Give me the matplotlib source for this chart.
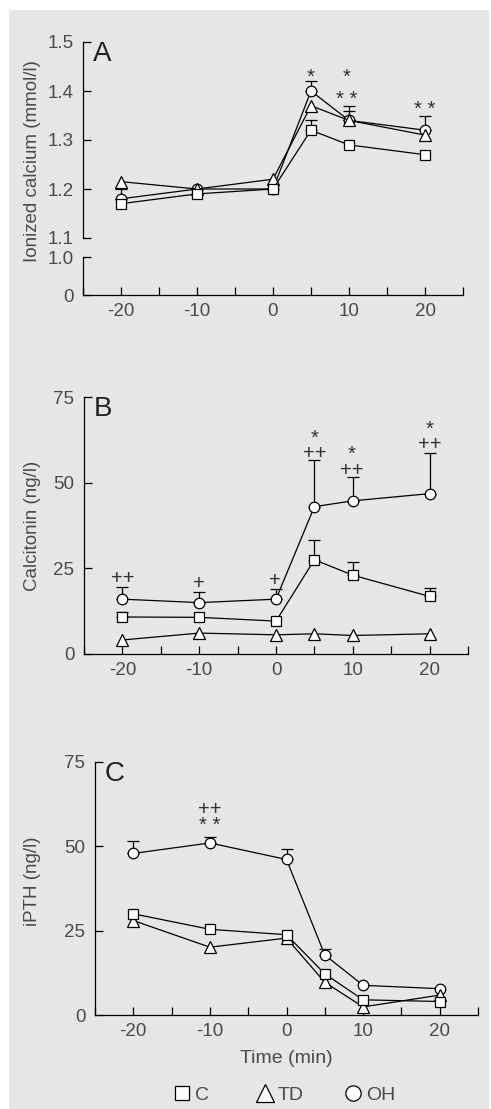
import numpy as np
import matplotlib
matplotlib.use("Agg")
import matplotlib.pyplot as plt
from matplotlib.lines import Line2D
from matplotlib.patches import Rectangle
from matplotlib.font_manager import FontProperties

# ---------------- data ----------------
time = [-20, -10, 0, 5, 10, 20]

# Panel A: ionized calcium (mmol/l)
ca_C = [1.17, 1.19, 1.20, 1.32, 1.29, 1.27]
ca_TD = [1.215, 1.20, 1.22, 1.37, 1.34, 1.31]
ca_OH = [1.18, 1.20, 1.20, 1.40, 1.34, 1.32]
ca_C_err = [0.0, 0.0, 0.0, 0.02, 0.0, 0.0]
ca_TD_err = [0.0, 0.0, 0.0, 0.0, 0.02, 0.0]
ca_OH_err = [0.02, 0.0, 0.0, 0.02, 0.03, 0.03]

# Panel B: calcitonin (ng/l)
ct_C = [10.8, 10.7, 9.6, 27.5, 23.0, 16.8]
ct_TD = [4.1, 6.1, 5.6, 5.9, 5.4, 5.9]
ct_OH = [16.0, 15.0, 16.0, 43.0, 44.7, 46.8]
ct_C_err = [1.5, 0.0, 0.0, 5.8, 3.8, 2.4]
ct_TD_err = [0.0, 0.0, 0.0, 0.0, 0.0, 0.0]
ct_OH_err = [3.6, 3.2, 3.0, 13.5, 7.0, 12.0]

# Panel C: iPTH (ng/l)
pth_C = [30.0, 25.4, 23.8, 12.2, 4.5, 4.0]
pth_TD = [28.0, 20.1, 22.8, 9.7, 2.4, 5.9]
pth_OH = [47.9, 51.0, 46.1, 17.8, 8.8, 7.8]
pth_C_err = [0.0, 0.0, 0.0, 0.0, 0.0, 0.0]
pth_TD_err = [0.0, 0.0, 0.0, 0.0, 0.0, 0.0]
pth_OH_err = [3.6, 1.7, 3.0, 1.8, 0.0, 0.0]

# significance marks: (text, x, y) -- y is the visual centre of the mark
marks_A = [("*", 4.9, 1.437), ("*", 9.7, 1.437), ("* *", 9.7, 1.386), ("* *", 20.0, 1.365)]
marks_B = [("++", -20, 22.5), ("+", -10, 21.0), ("+", -0.2, 21.8),
           ("++", 5, 59.0), ("*", 5, 64.4),
           ("++", 9.9, 54.0), ("*", 9.9, 59.7),
           ("++", 20, 61.5), ("*", 20, 66.9)]
marks_C = [("++", -10, 61.5), ("* *", -10, 56.5)]

series_names = ["C", "TD", "OH"]
x_major = [-20, -10, 0, 10, 20]
x_minor = [-25, -15, -5, 5, 15, 25]

# ---------------- style ----------------
W, H = 491, 1109
DPI = 100
TXT = "#4a4a4a"
BG = "#e5e6e8"
FONT = ["Liberation Sans", "DejaVu Sans"]
plt.rcParams["font.family"] = FONT
plt.rcParams["font.size"] = 13.5

fig = plt.figure(figsize=(W / DPI, H / DPI), dpi=DPI, facecolor="white")
fig.patches.append(Rectangle((9 / W, 0), (489 - 9) / W, 1 - 10 / H,
                             transform=fig.transFigure, facecolor=BG,
                             edgecolor="none", zorder=-10))

def px_axes(left, right, top, bottom):
    return fig.add_axes([left / W, 1 - bottom / H, (right - left) / W, (bottom - top) / H])

styles = {
    "C": dict(marker="s", ms=7.0),
    "TD": dict(marker="^", ms=8.4),
    "OH": dict(marker="o", ms=7.6),
}

def draw_series(ax, data, errs):
    # draw order: OH, TD, C (squares on top)
    for name in ["OH", "TD", "C"]:
        y = np.asarray(data[name], dtype=float)
        e = np.asarray(errs[name], dtype=float)
        has = e > 0
        if has.any():
            xs = np.asarray(time)[has]
            ax.errorbar(xs, y[has], yerr=[np.zeros(has.sum()), e[has]], fmt="none",
                        ecolor="black", elinewidth=0.9, capsize=4.5, capthick=0.9,
                        zorder=2, clip_on=False)
        ax.plot(time, y, color="black", lw=0.9, mfc="white", mec="black", mew=0.9,
                zorder=3, clip_on=False, **styles[name])

def style_axes(ax, letter):
    ax.set_facecolor("none")
    for s in ["top", "right"]:
        ax.spines[s].set_visible(False)
    for s in ["left", "bottom"]:
        ax.spines[s].set_linewidth(0.9)
    ax.set_xlim(-25, 25)
    ax.set_xticks(x_major)
    ax.set_xticks(x_minor, minor=True)
    ax.set_xticklabels([str(v) for v in x_major])
    ax.tick_params(axis="both", which="both", direction="in", length=6, width=0.9,
                   colors="black", labelcolor=TXT, labelsize=13.5)
    ax.tick_params(axis="x", which="major", pad=6)
    ax.tick_params(axis="y", which="major", pad=7)
    ax.text(0.025, 1.005, letter, transform=ax.transAxes, fontsize=20, color="#222222",
            ha="left", va="top")

# ---------------- Panel A ----------------
axA = px_axes(83, 463, 42, 295)
bp_data = [0.0, 1.0, 1.1, 1.5]
bp_disp = [0.0, 38.0, 57.0, 253.0]

def fwd(y):
    y = np.asarray(y, dtype=float)
    return np.interp(y, bp_data, bp_disp, left=-1e3, right=1e3)

def inv(u):
    u = np.asarray(u, dtype=float)
    return np.interp(u, bp_disp, bp_data, left=-1e3, right=1e3)

axA.set_yscale("function", functions=(fwd, inv))
axA.set_ylim(0, 1.5)
draw_series(axA, {"C": ca_C, "TD": ca_TD, "OH": ca_OH},
            {"C": ca_C_err, "TD": ca_TD_err, "OH": ca_OH_err})
style_axes(axA, "A")
axA.spines["left"].set_visible(False)
for seg in ([0.0, 1.0], [1.1, 1.5]):
    axA.plot([-25, -25], seg, color="black", lw=0.9, clip_on=False, zorder=4)
axA.set_yticks([0, 1.0, 1.1, 1.2, 1.3, 1.4, 1.5])
axA.set_yticklabels(["0", "1.0", "1.1", "1.2", "1.3", "1.4", "1.5"])
axA.set_yticks([1.0, 1.1], minor=True)
axA.tick_params(axis="y", which="minor", direction="out", length=4, width=0.9)
axA.set_ylabel("Ionized calcium (mmol/l)", color=TXT, fontsize=13.5)

# ---------------- Panel B ----------------
axB = px_axes(84, 468, 397, 654)
axB.set_ylim(0, 75)
draw_series(axB, {"C": ct_C, "TD": ct_TD, "OH": ct_OH},
            {"C": ct_C_err, "TD": ct_TD_err, "OH": ct_OH_err})
style_axes(axB, "B")
axB.set_yticks([0, 25, 50, 75])
axB.set_ylabel("Calcitonin (ng/l)", color=TXT, fontsize=13.5)

# ---------------- Panel C ----------------
axC = px_axes(95, 478, 762, 1015)
axC.set_ylim(0, 75)
draw_series(axC, {"C": pth_C, "TD": pth_TD, "OH": pth_OH},
            {"C": pth_C_err, "TD": pth_TD_err, "OH": pth_OH_err})
style_axes(axC, "C")
axC.set_yticks([0, 25, 50, 75])
axC.set_ylabel("iPTH (ng/l)", color=TXT, fontsize=13.5)
axC.set_xlabel("Time (min)", color=TXT, fontsize=14, labelpad=7)

# y-label positions
for ax, left, right, yc in ((axA, 83, 463, 0.528), (axB, 84, 468, 0.5), (axC, 95, 478, 0.528)):
    ax.yaxis.set_label_coords((41 - left) / (right - left), yc)

# ---------------- significance marks ----------------
MARK_FS = 14.5
renderer = fig.canvas.get_renderer()
mark_prop = FontProperties(family=FONT, size=MARK_FS)

def ink_centre(t):
    # height of the glyphs' ink centre above the baseline, in pixels
    w, h, d = renderer.get_text_width_height_descent(t, mark_prop, ismath=False)
    return h / 2.0 - d

_, lp_h, lp_d = renderer.get_text_width_height_descent("lp", mark_prop, ismath=False)
lp_asc = lp_h - lp_d

def draw_marks(ax, marks):
    # marks stacked at the same x are drawn as one multi-line text (top-anchored)
    groups = {}
    for t, x, y in marks:
        groups.setdefault(x, []).append((t, y))
    for x, items in groups.items():
        items.sort(key=lambda it: -it[1])
        lines = [t for t, _ in items]
        ys_px = [ax.transData.transform((x, y))[1] for _, y in items]
        base0 = ys_px[0] - ink_centre(lines[0])
        ls = 1.2
        if len(items) > 1:
            base1 = ys_px[1] - ink_centre(lines[1])
            sep = base0 - base1
            ls = (sep - lp_d) / lp_asc
        top_px = base0 + lp_asc
        off_pt = (top_px - ys_px[0]) * 72.0 / DPI
        ax.annotate("\n".join(lines), (x, items[0][1]), xytext=(0, off_pt),
                    textcoords="offset points", ha="center", va="top",
                    multialignment="center", linespacing=ls, fontsize=MARK_FS,
                    color="#333333", annotation_clip=False)

draw_marks(axA, marks_A)
draw_marks(axB, marks_B)
draw_marks(axC, marks_C)

# ---------------- legend (one entry per position) ----------------
marker_cfg = (("s", 10.5), ("^", 12.5), ("o", 11))
marker_x = (182, 265, 353)
for (m, s), name, mx in zip(marker_cfg, series_names, marker_x):
    h = Line2D([], [], ls="none", marker=m, ms=s, mfc="white", mec="black", mew=0.9)
    fs = 14
    handle_px = 1.0 * fs * DPI / 72
    fig.legend([h], [name], loc="center left",
               bbox_to_anchor=((mx - handle_px / 2) / W, 1 - 1095 / H),
               frameon=False, handletextpad=0.15, handlelength=1.0,
               borderpad=0, borderaxespad=0, fontsize=fs, labelcolor=TXT)

fig.savefig("out.png", dpi=DPI, facecolor="white")
